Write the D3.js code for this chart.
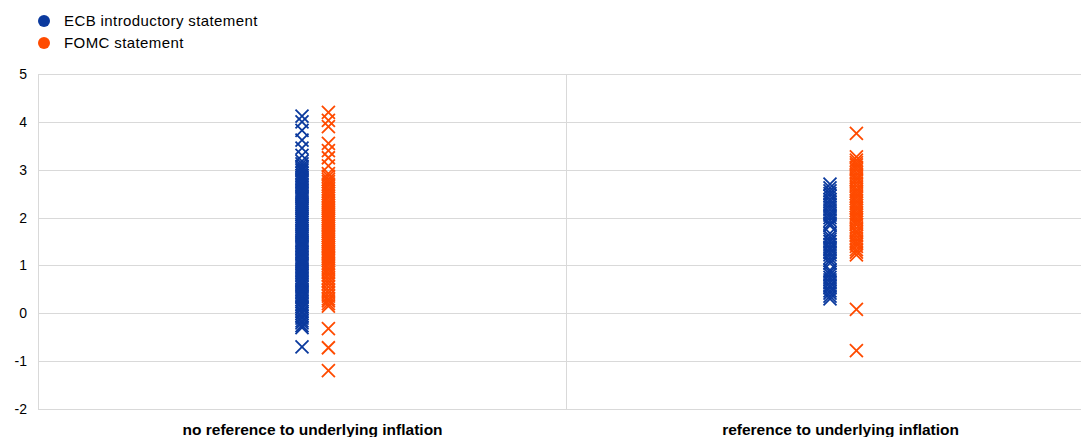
<!DOCTYPE html>
<html><head><meta charset="utf-8">
<script src="https://cdn.jsdelivr.net/npm/d3@7"></script>
<style>html,body{margin:0;padding:0;background:#fff;overflow:hidden}svg{display:block;font-family:Arial,"Liberation Sans",sans-serif}</style>
</head><body>
<svg id="chart" width="1081" height="437"></svg>
<script>
const categories = ["no reference to underlying inflation", "reference to underlying inflation"];
const seriesNames = ["ECB introductory statement", "FOMC statement"];
const seriesColors = ["#0b3a9e", "#ff4b00"];
const yTicks = [-2, -1, 0, 1, 2, 3, 4, 5];

const ecbNoRef = [-0.7, -0.3, -0.26, -0.2, -0.16, -0.1, -0.06, 0.0, 0.04, 0.1, 0.14, 0.19, 0.24, 0.28, 0.33, 0.37, 0.42, 0.46, 0.5, 0.55, 0.6, 0.64, 0.68, 0.73, 0.78, 0.82, 0.86, 0.9, 0.95, 1.0, 1.04, 1.08, 1.12, 1.17, 1.22, 1.26, 1.3, 1.35, 1.4, 1.44, 1.48, 1.52, 1.57, 1.62, 1.66, 1.7, 1.74, 1.78, 1.82, 1.86, 1.9, 1.94, 1.98, 2.02, 2.06, 2.1, 2.14, 2.18, 2.22, 2.26, 2.3, 2.35, 2.4, 2.44, 2.48, 2.52, 2.57, 2.62, 2.66, 2.7, 2.75, 2.8, 2.84, 2.88, 2.93, 2.98, 3.02, 3.07, 3.12, 3.18, 3.3, 3.45, 3.62, 3.82, 4.0, 4.12];
const fomcNoRef = [-1.2, -0.72, -0.32, 0.15, 0.2, 0.26, 0.3, 0.36, 0.42, 0.48, 0.55, 0.62, 0.68, 0.74, 0.8, 0.85, 0.9, 0.95, 1.0, 1.05, 1.1, 1.14, 1.18, 1.22, 1.26, 1.3, 1.34, 1.38, 1.42, 1.46, 1.5, 1.54, 1.58, 1.62, 1.66, 1.7, 1.74, 1.78, 1.82, 1.86, 1.9, 1.94, 1.98, 2.02, 2.06, 2.1, 2.14, 2.18, 2.22, 2.26, 2.3, 2.35, 2.4, 2.45, 2.5, 2.55, 2.6, 2.65, 2.7, 2.75, 2.8, 2.86, 2.92, 3.08, 3.25, 3.4, 3.55, 3.9, 4.03, 4.2];
const ecbRef = [0.3, 0.36, 0.42, 0.47, 0.53, 0.58, 0.64, 0.7, 0.75, 0.81, 0.86, 0.9, 1.05, 1.1, 1.16, 1.22, 1.27, 1.33, 1.38, 1.44, 1.5, 1.55, 1.6, 1.67, 1.83, 1.88, 1.94, 2.0, 2.05, 2.1, 2.16, 2.22, 2.27, 2.33, 2.38, 2.45, 2.5, 2.56, 2.62, 2.7];
const fomcRef = [-0.78, 0.08, 1.22, 1.28, 1.33, 1.4, 1.45, 1.5, 1.56, 1.62, 1.68, 1.72, 1.78, 1.85, 1.9, 1.95, 2.0, 2.05, 2.1, 2.15, 2.2, 2.25, 2.3, 2.35, 2.4, 2.45, 2.5, 2.55, 2.6, 2.66, 2.72, 2.78, 2.83, 2.88, 2.94, 3.0, 3.05, 3.1, 3.15, 3.2, 3.27, 3.76];

const svg = d3.select("#chart");
const plotLeft = 38, plotTop = 74, plotBottom = 409;
const x = d3.scaleLinear().domain([0.5, 2.5]).range([plotLeft, 1094]);
const y = d3.scaleLinear().domain([-2, 5]).range([plotBottom, plotTop]);
const grid = "#d9d9d9";

svg.append("g").selectAll("line").data(yTicks).join("line")
  .attr("x1", plotLeft).attr("x2", 1081)
  .attr("y1", d => Math.round(y(d)) + 0.5).attr("y2", d => Math.round(y(d)) + 0.5)
  .attr("stroke", grid).attr("stroke-width", 1);
svg.append("line").attr("x1", plotLeft + 0.5).attr("x2", plotLeft + 0.5).attr("y1", plotTop).attr("y2", plotBottom).attr("stroke", grid);
svg.append("line").attr("x1", Math.round(x(1.5)) + 0.5).attr("x2", Math.round(x(1.5)) + 0.5).attr("y1", plotTop).attr("y2", plotBottom).attr("stroke", grid);

svg.append("g").selectAll("text").data(yTicks).join("text")
  .attr("x", 27).attr("y", d => y(d) + 5)
  .attr("text-anchor", "end").attr("font-size", 14).attr("fill", "#000")
  .text(d => d);

svg.append("g").selectAll("text").data(categories).join("text")
  .attr("x", (d, i) => x(i + 1.02)).attr("y", 435)
  .attr("text-anchor", "middle").attr("font-size", 15.5).attr("font-weight", "bold").attr("fill", "#000")
  .text(d => d);

const points = [];
[[ecbNoRef, fomcNoRef], [ecbRef, fomcRef]].forEach((pair, ci) => {
  pair.forEach((vals, si) => {
    vals.forEach(v => points.push({xv: ci + 1 + si * 0.05, v, s: si}));
  });
});
const h = 6.5;
svg.append("g").selectAll("path").data(points).join("path")
  .attr("transform", d => `translate(${x(d.xv)},${y(d.v)})`)
  .attr("d", `M${-h},${-h}L${h},${h}M${-h},${h}L${h},${-h}`)
  .attr("fill", "none").attr("stroke", d => seriesColors[d.s]).attr("stroke-width", 1.8);

const lg = svg.append("g").selectAll("g").data(seriesNames).join("g")
  .attr("transform", (d, i) => `translate(44,${21 + i * 22})`);
lg.append("circle").attr("r", 6).attr("fill", (d, i) => seriesColors[i]);
lg.append("text").attr("x", 20).attr("y", 5).attr("font-size", 15).attr("letter-spacing", 0.4).attr("fill", "#000").text(d => d);
</script>
</body></html>
